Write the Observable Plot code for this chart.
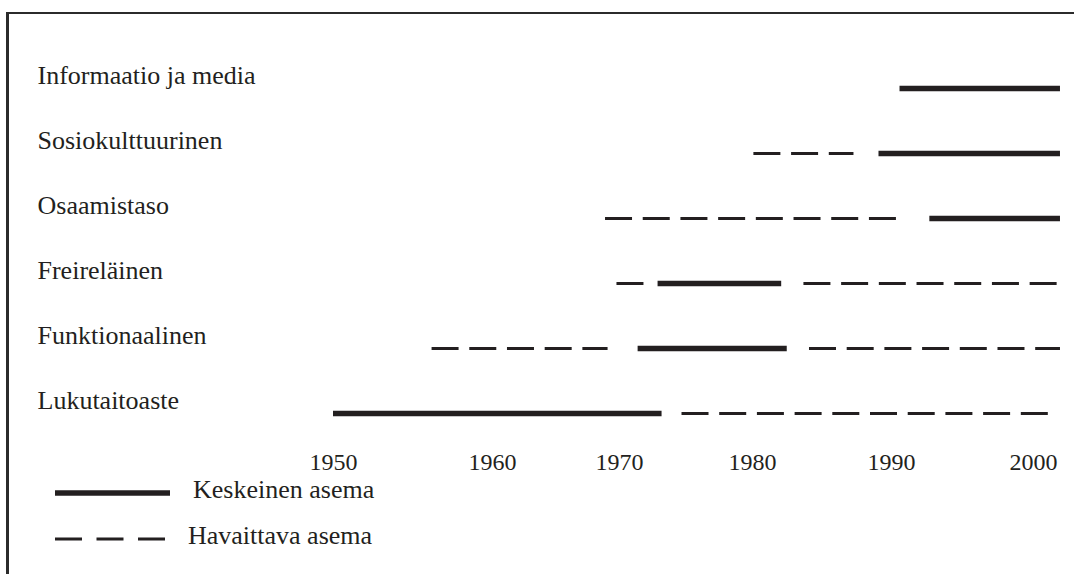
<!DOCTYPE html>
<html>
<head>
<meta charset="utf-8">
<script src="https://cdn.jsdelivr.net/npm/d3@7"></script>
<script src="https://cdn.jsdelivr.net/npm/@observablehq/plot@0.6"></script>
<style>
  html, body { margin: 0; padding: 0; background: #ffffff; }
  body { width: 1074px; height: 574px; overflow: hidden; font-family: "Liberation Serif", "Times New Roman", serif; color: #231f20; }
  #frame { margin: 12px 0 0 6px; border-top: 2px solid #2b2b2b; border-left: 3px solid #2b2b2b; width: 1065px; height: 560px; }
  #chart svg { display: block; }
  #legend { position: relative; height: 98px; }
  #legend .sw { position: absolute; left: 46px; display: block; }
  #legend .lab { position: absolute; font-size: 26px; line-height: 26px; white-space: nowrap; }
</style>
</head>
<body>
<div id="frame">
  <div id="chart"></div>
  <div id="legend"></div>
</div>
<script>
// Categories (top to bottom)
const categories = ["Informaatio ja media", "Sosiokulttuurinen", "Osaamistaso", "Freireläinen", "Funktionaalinen", "Lukutaitoaste"];

// Axis tick years
const tickYears = [1950, 1960, 1970, 1980, 1990, 2000];

// Segments: category, start year, end year, type (K = keskeinen, H = havaittava)
const segCategory = [
  "Informaatio ja media",
  "Sosiokulttuurinen", "Sosiokulttuurinen",
  "Osaamistaso", "Osaamistaso",
  "Freireläinen", "Freireläinen", "Freireläinen",
  "Funktionaalinen", "Funktionaalinen", "Funktionaalinen",
  "Lukutaitoaste", "Lukutaitoaste"
];
const segStart = [1990.6, 1980.1, 1989.1, 1968.9, 1992.7, 1969.8, 1972.9, 1983.7, 1956.2, 1971.4, 1984.1, 1950.0, 1974.7];
const segEnd   = [2001.9, 1987.3, 2001.9, 1990.4, 2001.9, 1971.9, 1982.1, 2001.9, 1969.1, 1982.5, 2001.9, 1973.2, 2001.6];
const segType  = ["K", "H", "K", "H", "K", "H", "K", "H", "H", "K", "H", "K", "H"];

// Legend
const legendTypes = ["K", "H"];
const legendLabels = ["Keskeinen asema", "Havaittava asema"];

const segments = segCategory.map((c, i) => ({cat: c, start: segStart[i], end: segEnd[i], type: segType[i]}));
const solid = segments.filter(d => d.type === "K");
const dashed = segments.filter(d => d.type === "H");

const ink = "#231f20";

const chart = Plot.plot({
  width: 1065,
  height: 462,
  marginLeft: 28,
  marginTop: 0,
  marginRight: 0,
  marginBottom: 24,
  style: {fontFamily: "Liberation Serif, Times New Roman, serif", color: ink, background: "transparent", overflow: "visible"},
  x: {type: "linear", domain: tickYears, range: [324, 483, 610, 743, 882, 1024]},
  y: {type: "point", domain: categories, range: [72, 400], padding: 0, axis: null},
  marks: [
    Plot.ruleY(dashed, {y: "cat", x1: "start", x2: "end", stroke: ink, strokeWidth: 3, strokeDasharray: "27,10.7"}),
    Plot.ruleY(solid, {y: "cat", x1: "start", x2: "end", stroke: ink, strokeWidth: 5.5}),
    Plot.text(categories, {y: d => d, text: d => d, frameAnchor: "left", textAnchor: "start", lineAnchor: "bottom", dy: -5, fontSize: 26, fill: ink}),
    Plot.axisX({ticks: tickYears, tickFormat: d => String(d), tickSize: 0, tickPadding: 0, fontSize: 24, label: null, fill: ink})
  ]
});
document.getElementById("chart").appendChild(chart);

// Legend below the plot
const legend = document.getElementById("legend");
const swTop = [12, 58];
const labPos = [{left: 184, top: 1}, {left: 179, top: 47}];
const swW = [115, 110];
legendTypes.forEach((t, i) => {
  const ns = "http://www.w3.org/2000/svg";
  const s = document.createElementNS(ns, "svg");
  s.setAttribute("class", "sw");
  s.setAttribute("width", swW[i]);
  s.setAttribute("height", 10);
  s.style.top = swTop[i] + "px";
  const l = document.createElementNS(ns, "line");
  l.setAttribute("x1", 0); l.setAttribute("x2", swW[i]);
  l.setAttribute("y1", 5); l.setAttribute("y2", 5);
  l.setAttribute("stroke", ink);
  l.setAttribute("stroke-width", t === "K" ? 5.5 : 3);
  if (t === "H") l.setAttribute("stroke-dasharray", "27,14.5");
  s.appendChild(l);
  legend.appendChild(s);
  const d = document.createElement("div");
  d.className = "lab";
  d.style.left = labPos[i].left + "px";
  d.style.top = labPos[i].top + "px";
  d.textContent = legendLabels[i];
  legend.appendChild(d);
});
</script>
</body>
</html>
